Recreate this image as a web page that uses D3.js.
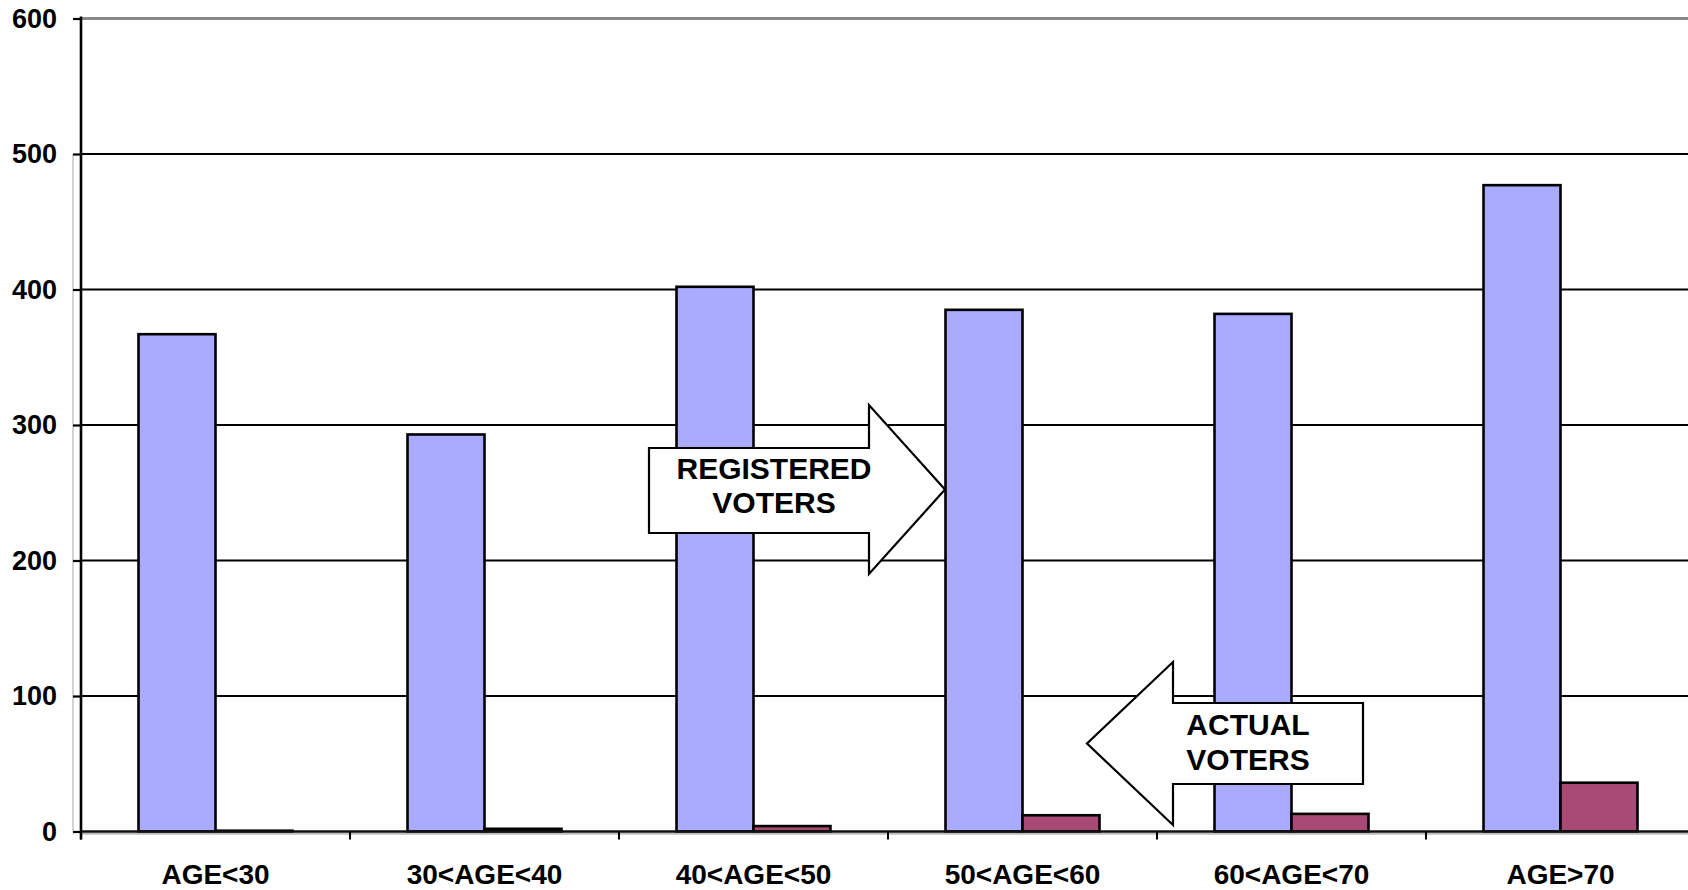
<!DOCTYPE html>
<html>
<head>
<meta charset="utf-8">
<script src="https://cdn.jsdelivr.net/npm/d3@7"></script>
<style>
  html, body { margin: 0; padding: 0; background: #fff; }
  svg { display: block; font-family: "Liberation Sans", Arial, Helvetica, sans-serif; }
</style>
</head>
<body>
<svg id="chart" width="1688" height="890"></svg>
<script>
// ---- data ----
const categories = ["AGE<30", "30<AGE<40", "40<AGE<50", "50<AGE<60", "60<AGE<70", "AGE>70"];
const registeredVoters = [367, 293, 402, 385, 382, 477];
const actualVoters = [0.6, 2, 4, 12, 13, 36];
const yTicks = [0, 100, 200, 300, 400, 500, 600];
const seriesKeys = ["registered", "actual"];
const seriesColors = ["#aaaaff", "#a84a75"];

// ---- layout ----
const W = 1688, H = 890;
const plotLeft = 81, plotTop = 18.5, plotBottom = 831.5, plotRight = 1695;

const svg = d3.select("#chart");
svg.append("rect").attr("width", W).attr("height", H).attr("fill", "#fff");

const x = d3.scaleBand().domain(categories).range([plotLeft, plotRight]).padding(0);
const xs = d3.scaleBand().domain(seriesKeys).range([0, x.bandwidth()]).paddingInner(0).paddingOuter(0.747);
const y = d3.scaleLinear().domain([0, 600]).range([plotBottom, plotTop]);
const color = d3.scaleOrdinal().domain(seriesKeys).range(seriesColors);

// faint gray edge line left of the axis
svg.append("line")
  .attr("x1", 73).attr("x2", 73)
  .attr("y1", y(500)).attr("y2", y(0))
  .attr("stroke", "#c4c4c4").attr("stroke-width", 1.5);

// gridlines
const grid = svg.append("g");
grid.selectAll("line").data(yTicks.filter(t => t > 0)).join("line")
  .attr("x1", plotLeft).attr("x2", W)
  .attr("y1", d => y(d)).attr("y2", d => y(d))
  .attr("stroke", d => d === 600 ? "#8a8a8a" : "#000")
  .attr("stroke-width", d => d === 600 ? 3 : 2.2);

// bars
const rows = categories.map((c, i) => ({ cat: c, registered: registeredVoters[i], actual: actualVoters[i] }));
const groups = svg.append("g").selectAll("g").data(rows).join("g")
  .attr("transform", d => `translate(${x(d.cat)},0)`);
groups.selectAll("rect").data(d => seriesKeys.map(k => ({ key: k, value: d[k] }))).join("rect")
  .attr("x", d => xs(d.key))
  .attr("width", xs.bandwidth())
  .attr("y", d => y(d.value))
  .attr("height", d => y(0) - y(d.value))
  .attr("fill", d => color(d.key))
  .attr("stroke", "#000")
  .attr("stroke-width", 2.6);

// x axis line (with faint shadow)
svg.append("line")
  .attr("x1", plotLeft).attr("x2", W)
  .attr("y1", y(0) + 2.2).attr("y2", y(0) + 2.2)
  .attr("stroke", "#bdbdbd").attr("stroke-width", 2);
svg.append("line")
  .attr("x1", plotLeft).attr("x2", W)
  .attr("y1", y(0)).attr("y2", y(0))
  .attr("stroke", "#111").attr("stroke-width", 2.4);

// x ticks at band boundaries
const boundaries = categories.map(c => x(c));
svg.append("g").selectAll("line").data(boundaries).join("line")
  .attr("x1", d => d).attr("x2", d => d)
  .attr("y1", y(0)).attr("y2", y(0) + 8)
  .attr("stroke", "#000").attr("stroke-width", 2);

// y axis
const yAxis = d3.axisLeft(y).tickValues(yTicks).tickSize(8).tickPadding(16).tickFormat(d3.format("d"));
const yg = svg.append("g").attr("transform", `translate(${plotLeft},0)`).call(yAxis);
yg.select(".domain").attr("stroke", "#000").attr("stroke-width", 2.6)
  .attr("d", `M0,${plotTop - 2}V${plotBottom + 8}`);
yg.selectAll(".tick line").attr("stroke", "#000").attr("stroke-width", 2.2);
yg.selectAll(".tick text")
  .attr("font-size", 27).attr("font-weight", "bold").attr("fill", "#000")
  .attr("font-family", "'Liberation Sans', Arial, sans-serif");

// x labels
svg.append("g").selectAll("text").data(categories).join("text")
  .attr("x", d => x(d) + x.bandwidth() / 2)
  .attr("y", 884)
  .attr("text-anchor", "middle")
  .attr("font-size", 28).attr("font-weight", "bold").attr("fill", "#000")
  .text(d => d);

// ---- annotation arrows ----
function arrowRight(xL, xBase, xTip, yBodyTop, yBodyBot, yHeadTop, yHeadBot) {
  const yMid = (yHeadTop + yHeadBot) / 2;
  return [[xL, yBodyTop], [xBase, yBodyTop], [xBase, yHeadTop], [xTip, yMid],
          [xBase, yHeadBot], [xBase, yBodyBot], [xL, yBodyBot]];
}
function arrowLeft(xR, xBase, xTip, yBodyTop, yBodyBot, yHeadTop, yHeadBot) {
  const yMid = (yHeadTop + yHeadBot) / 2;
  return [[xR, yBodyTop], [xBase, yBodyTop], [xBase, yHeadTop], [xTip, yMid],
          [xBase, yHeadBot], [xBase, yBodyBot], [xR, yBodyBot]];
}
const pathLine = d3.line();
const annotations = [
  { pts: arrowRight(649, 869, 945, 448, 533, 405, 574), lines: ["REGISTERED", "VOTERS"], cx: 774, y0: 479, y1: 513 },
  { pts: arrowLeft(1363, 1173, 1087, 703, 784, 662, 825), lines: ["ACTUAL", "VOTERS"], cx: 1248, y0: 735, y1: 770 }
];
const ag = svg.append("g").selectAll("g").data(annotations).join("g");
ag.append("path")
  .attr("d", d => pathLine(d.pts) + "Z")
  .attr("fill", "#fff").attr("stroke", "#000").attr("stroke-width", 2.2)
  .attr("stroke-linejoin", "miter");
ag.each(function(d) {
  const g = d3.select(this);
  d.lines.forEach((t, i) => {
    g.append("text")
      .attr("x", d.cx).attr("y", i === 0 ? d.y0 : d.y1)
      .attr("text-anchor", "middle")
      .attr("font-size", 30).attr("font-weight", "bold").attr("fill", "#000")
      .text(t);
  });
});
</script>
</body>
</html>
